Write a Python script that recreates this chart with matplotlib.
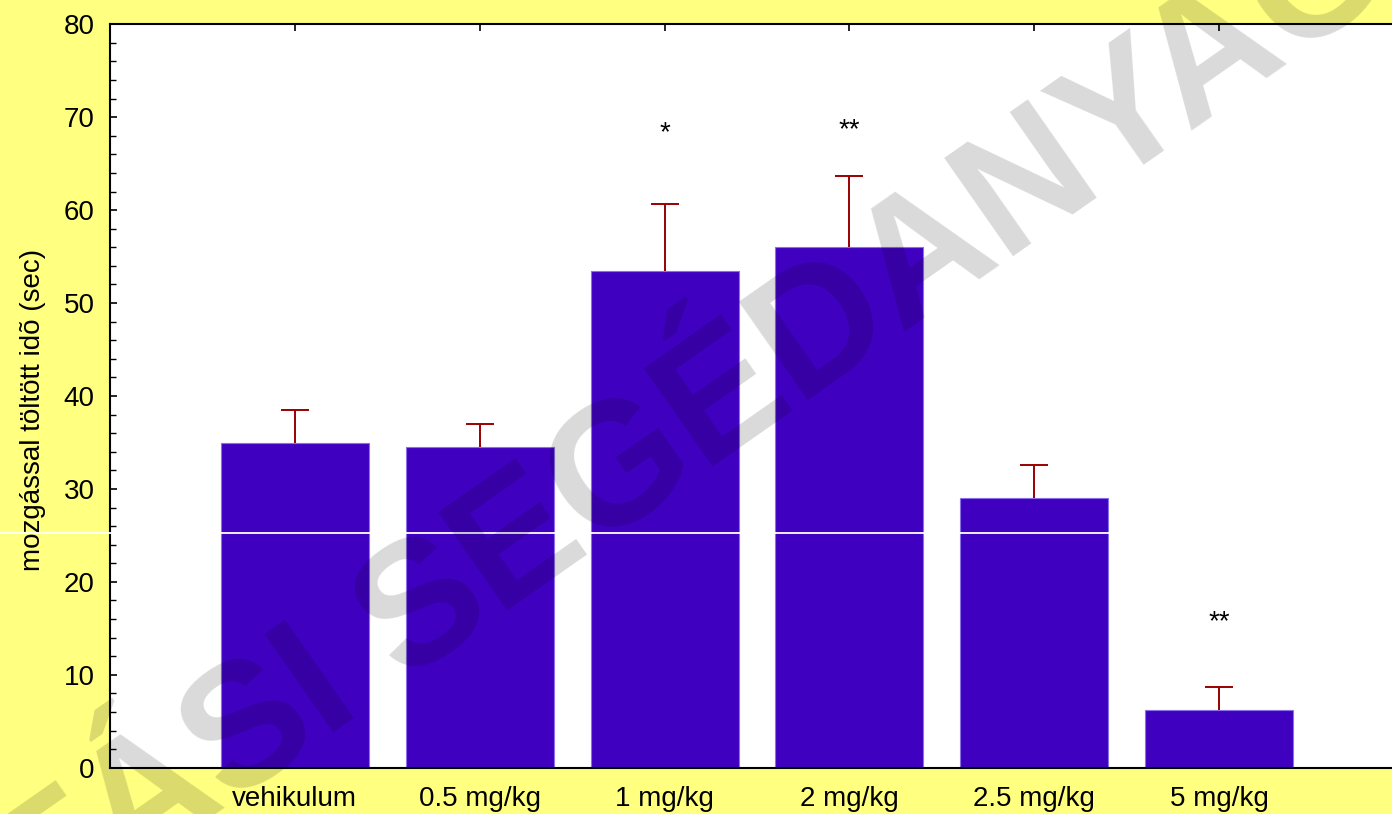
import matplotlib
matplotlib.use("Agg")
import matplotlib.pyplot as plt
from matplotlib.lines import Line2D
from matplotlib.ticker import MultipleLocator

plt.rcParams['font.family'] = ['Liberation Sans', 'DejaVu Sans']

# Data
groups = ["vehikulum", "0.5 mg/kg", "1 mg/kg", "2 mg/kg", "2.5 mg/kg", "5 mg/kg"]
means = [34.95, 34.55, 53.45, 56.05, 29.05, 6.2]
sem = [3.55, 2.4, 7.2, 7.6, 3.55, 2.5]
signif = ["", "", "*", "**", "", "**"]
signif_y = [0, 0, 67.5, 67.9, 0, 14.9]

W, H = 1392, 814
fig = plt.figure(figsize=(W / 100, H / 100), dpi=100, facecolor="#FFFF80")

# axes box in pixels: left 110, right 1404 (just past the edge), top 24.3, bottom 767.7
ax = fig.add_axes([110 / W, (H - 767.7) / H, (1404 - 110) / W, (767.7 - 24.3) / H])
ax.set_facecolor("white")

x = list(range(len(groups)))
ax.bar(x, means, width=0.8, color="#4000C0", edgecolor="#8A70E8", linewidth=0.8, zorder=2)
_, caps, _ = ax.errorbar(x, means, yerr=[[0] * len(sem), sem], fmt="none", ecolor="#990000",
                         elinewidth=1.4, capsize=10, capthick=1.4, zorder=3)
# upper caps only
caps[0].set_visible(False)

for xi, s, sy in zip(x, signif, signif_y):
    if s:
        ax.text(xi, sy, s, ha="center", va="baseline", fontsize=20, color="black", zorder=4)

ax.set_xlim(-1, 6)
ax.set_ylim(0, 80)
ax.set_xticks(x)
ax.set_xticklabels(groups, fontsize=20)
ax.yaxis.set_major_locator(MultipleLocator(10))
ax.yaxis.set_minor_locator(MultipleLocator(2))
ax.tick_params(axis="y", which="major", direction="in", length=5, width=1.2, labelsize=20, pad=11)
ax.tick_params(axis="y", which="minor", direction="in", length=4, width=1.0)
ax.tick_params(axis="x", which="major", direction="in", length=5, width=1.2, pad=13,
               top=True, labeltop=False)
for sp in ax.spines.values():
    sp.set_linewidth(1.5)
    sp.set_color("black")

ax.set_ylabel("mozgással töltött idõ (sec)", fontsize=20)
ax.yaxis.label.set_va("center")
ax.yaxis.set_label_coords((33 - 110) / 1294, 0.481)

# thin white rule running across the whole sheet
fig.add_artist(Line2D([0, 1], [(H - 533.3) / H] * 2, transform=fig.transFigure,
                      color="white", linewidth=1.3, zorder=10))

# diagonal watermark
fig.text(530 / W, (H - 595) / H, "OKTATÁSI SEGÉDANYAG", fontsize=125, fontweight="bold",
         color="black", alpha=0.15, rotation=35, ha="center", va="baseline",
         rotation_mode="anchor", zorder=20)

fig.savefig("out.png", dpi=100, facecolor=fig.get_facecolor())
